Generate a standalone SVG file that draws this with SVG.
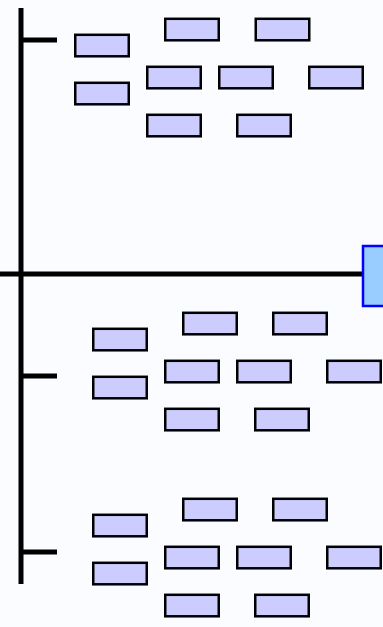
<svg xmlns="http://www.w3.org/2000/svg" width="383" height="627" viewBox="0 0 383 627">
<style>
.n{fill:#ccccff;stroke:#000;stroke-width:2.5}
.c{stroke:#000;stroke-width:5;fill:none}
</style>
<defs><rect id="box" class="n" width="53.5" height="21.5"/></defs>
<rect width="383" height="627" fill="#fbfcff"/>
<g id="connectors">
<line class="c" x1="21" y1="8" x2="21" y2="584"/>
<line class="c" x1="0" y1="274" x2="363" y2="274"/>
<line class="c" x1="21" y1="40" x2="57" y2="40"/>
<line class="c" x1="21" y1="376" x2="57" y2="376"/>
<line class="c" x1="21" y1="552" x2="57" y2="552"/>
</g>
<g id="main"><rect x="363" y="246" width="40" height="60" fill="#99ccff" stroke="#0000ff" stroke-width="2.5"/></g>
<g id="top">
<g id="t1"><use href="#box" x="75.25" y="34.8"/></g>
<g id="t2"><use href="#box" x="75.25" y="82.8"/></g>
<g id="t3"><use href="#box" x="165.25" y="18.8"/></g>
<g id="t4"><use href="#box" x="255.75" y="18.8"/></g>
<g id="t5"><use href="#box" x="147.25" y="66.8"/></g>
<g id="t6"><use href="#box" x="219.25" y="66.8"/></g>
<g id="t7"><use href="#box" x="309.25" y="66.8"/></g>
<g id="t8"><use href="#box" x="147.25" y="114.8"/></g>
<g id="t9"><use href="#box" x="237.25" y="114.8"/></g>
</g>
<g id="mid">
<g id="m1"><use href="#box" x="93.25" y="328.8"/></g>
<g id="m2"><use href="#box" x="93.25" y="376.8"/></g>
<g id="m3"><use href="#box" x="183.25" y="312.8"/></g>
<g id="m4"><use href="#box" x="273.25" y="312.8"/></g>
<g id="m5"><use href="#box" x="165.25" y="360.8"/></g>
<g id="m6"><use href="#box" x="237.25" y="360.8"/></g>
<g id="m7"><use href="#box" x="327.25" y="360.8"/></g>
<g id="m8"><use href="#box" x="165.25" y="408.8"/></g>
<g id="m9"><use href="#box" x="255.25" y="408.8"/></g>
</g>
<g id="bot">
<g id="b1"><use href="#box" x="93.25" y="514.8"/></g>
<g id="b2"><use href="#box" x="93.25" y="562.8"/></g>
<g id="b3"><use href="#box" x="183.25" y="498.8"/></g>
<g id="b4"><use href="#box" x="273.25" y="498.8"/></g>
<g id="b5"><use href="#box" x="165.25" y="546.8"/></g>
<g id="b6"><use href="#box" x="237.25" y="546.8"/></g>
<g id="b7"><use href="#box" x="327.25" y="546.8"/></g>
<g id="b8"><use href="#box" x="165.25" y="594.8"/></g>
<g id="b9"><use href="#box" x="255.25" y="594.8"/></g>
</g>
</svg>
